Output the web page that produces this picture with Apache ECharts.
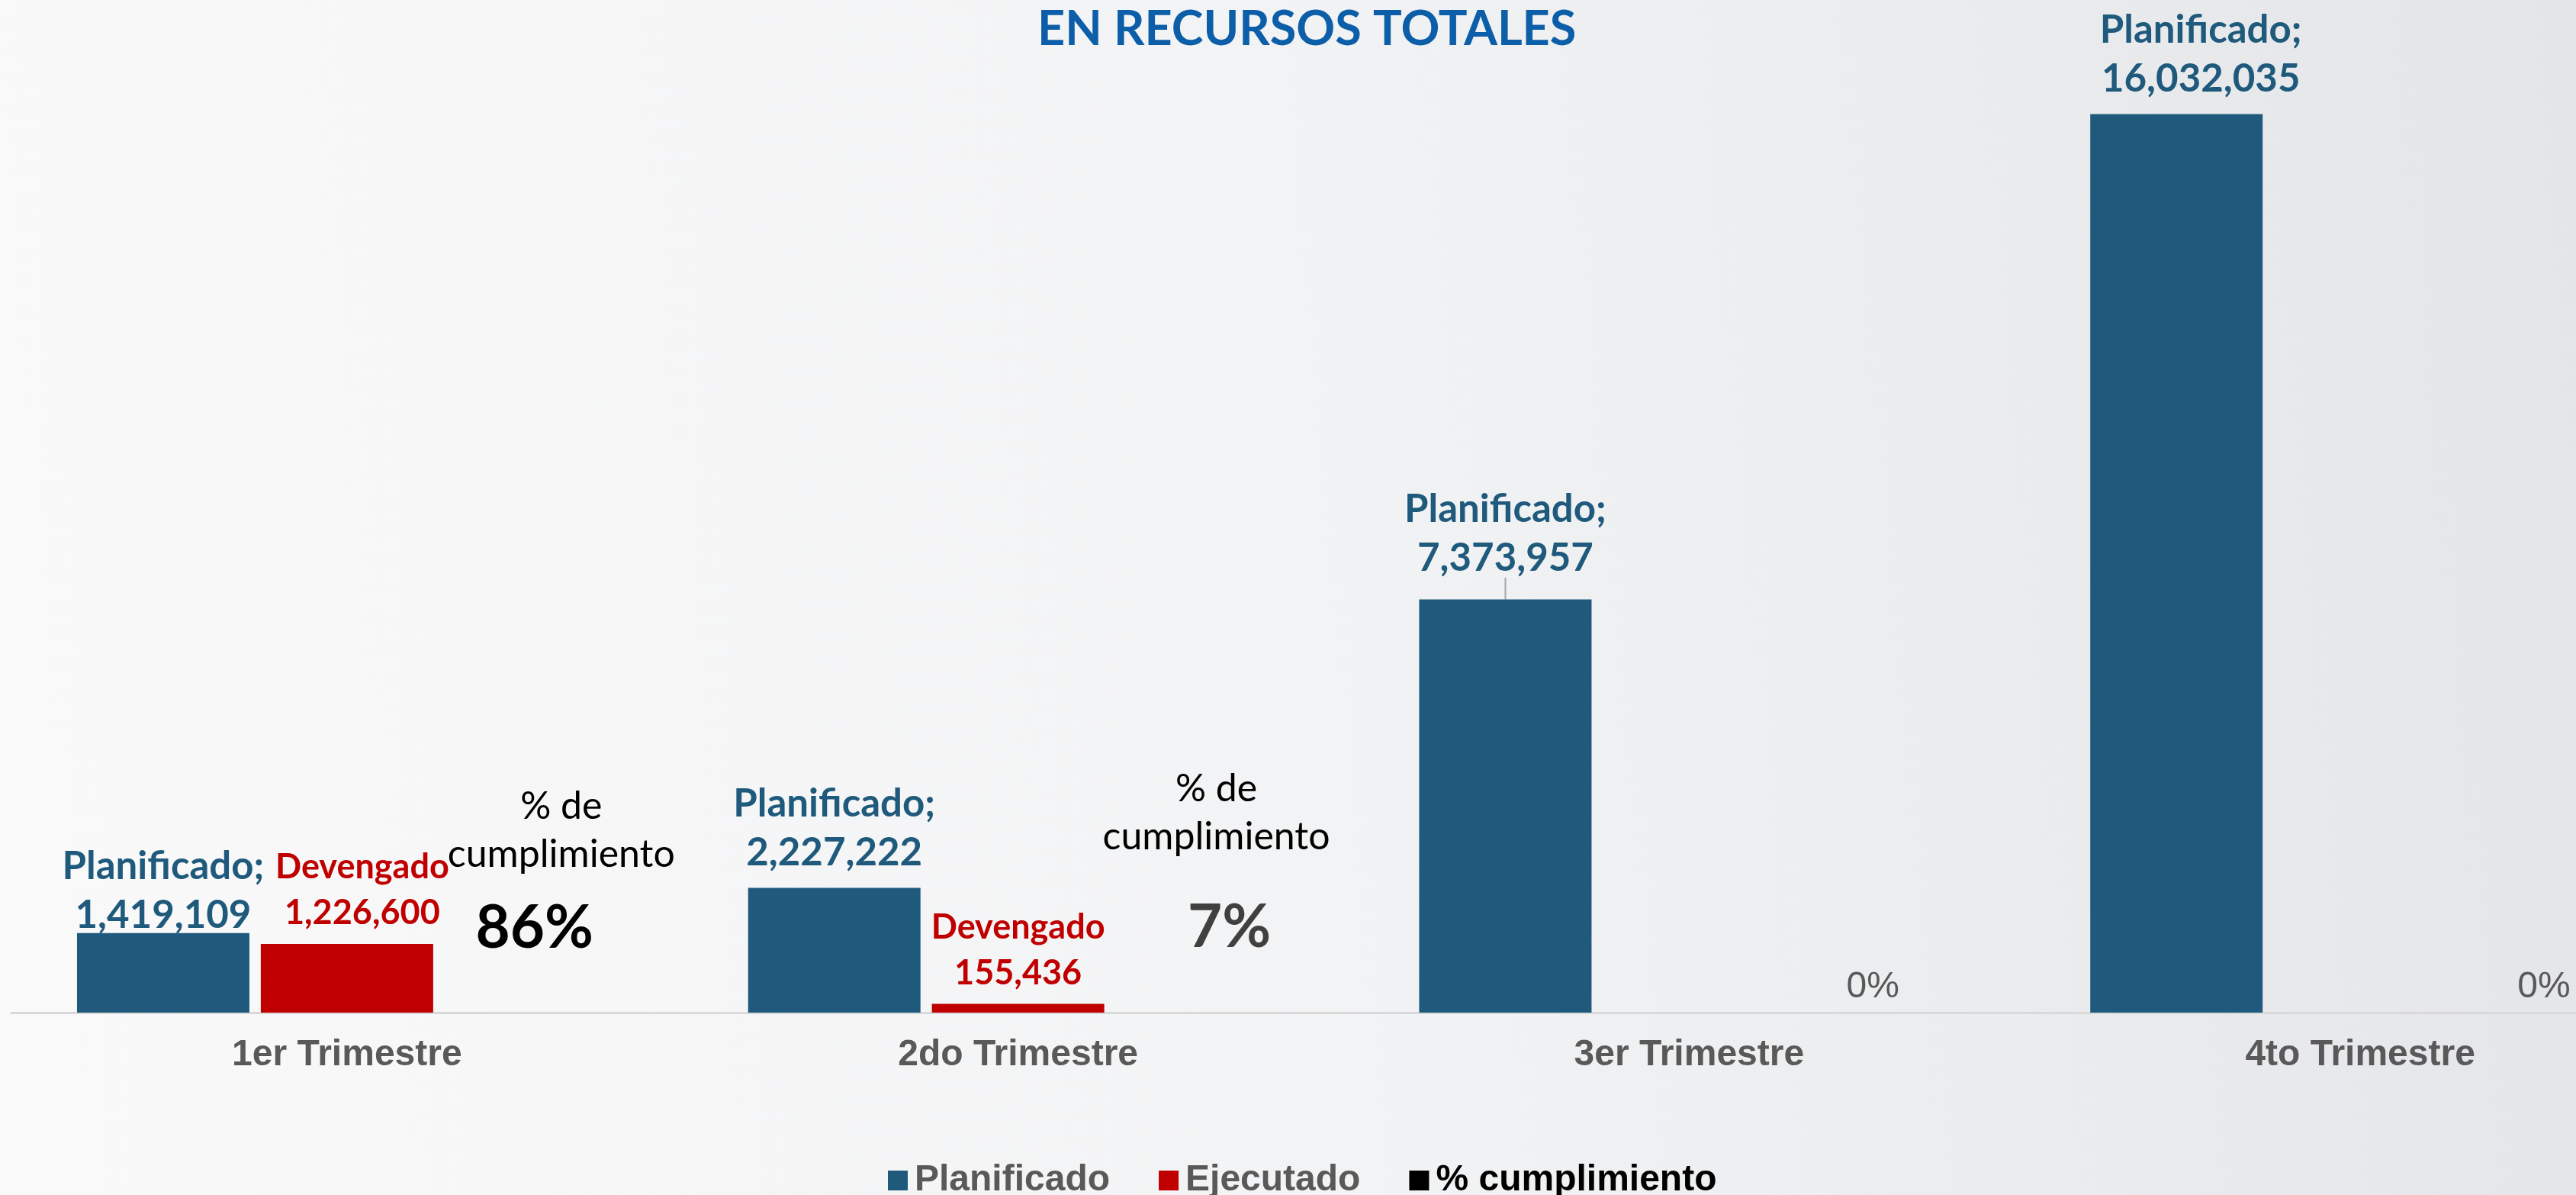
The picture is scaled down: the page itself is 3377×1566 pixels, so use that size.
<!DOCTYPE html>
<html><head><meta charset="utf-8">
<script src="https://cdn.jsdelivr.net/npm/echarts@6/dist/echarts.min.js"></script>
<style>html,body{margin:0;padding:0;overflow:hidden;} #c{width:3377px;height:1566px;}</style>
</head><body><div id="c"></div>
<script>
// ---- data ----
const categories = ['1er Trimestre', '2do Trimestre', '3er Trimestre', '4to Trimestre'];
const planificado = [1419109, 2227222, 7373957, 16032035];
const ejecutado = [1226600, 155436, 0, 0];
const cumplimiento = [0.86, 0.07, 0, 0];
const seriesNames = ['Planificado', 'Ejecutado', '% cumplimiento'];
const titleText = 'EN RECURSOS TOTALES';
const planPrefix = 'Planificado;';
const ejecPrefix = 'Devengado';
const pctCaption = ['% de', 'cumplimiento'];

// ---- styles ----
const BLUE = '#1F5A7D', RED = '#C00000', GRAY = '#595959';
const fmt = v => v.toLocaleString('en-US');
const pctText = v => Math.round(v * 100) + '%';

// label nudges (dx, dy) per series / category
const nudges = [
  [[0, 23], [0, 0], [0, -8], [32, 0]],
  [[20, 0], [0, 0], [0, 0], [0, 0]],
  [[40, 0], [19, 0], [0, 4], [0, 4]]
];

const planData = planificado.map((v, i) => {
  const item = { value: v };
  if (i === 2) item.labelLine = { show: true, lineStyle: { color: '#A6A6A6', width: 2 } };
  return item;
});
const ejecData = ejecutado.map(v => ({ value: v, label: { show: v > 0 } }));

const pctStyles = [
  { distance: 44, bLH: 132, bColor: '#000000', bPad: [0, 70, 0, 0] },
  { distance: 23, bLH: 176, bColor: '#404040', bPad: [0, 0, 0, 34] },
  { distance: 13 },
  { distance: 13 }
];
const pctData = cumplimiento.map((v, i) => {
  const s = pctStyles[i];
  if (v > 0) {
    return {
      value: v,
      label: {
        distance: s.distance,
        formatter: pctCaption.map(t => '{a|' + t + '}').join('\n') + '\n{b|' + pctText(v) + '}',
        rich: {
          a: { fontFamily: 'Lato', fontSize: 50, color: '#000', lineHeight: 63 },
          b: { fontFamily: 'Lato', fontWeight: 'bold', fontSize: 78, color: s.bColor, lineHeight: s.bLH, padding: s.bPad }
        }
      }
    };
  }
  return {
    value: v,
    label: {
      distance: s.distance,
      formatter: '{c|' + pctText(v) + '}',
      rich: { c: { fontFamily: 'Liberation Sans', fontSize: 48, color: GRAY, lineHeight: 48 } }
    }
  };
});

const chart = echarts.init(document.getElementById('c'), null, { renderer: 'canvas' });
chart.setOption({
  animation: false,
  backgroundColor: new echarts.graphic.LinearGradient(0, 0.3, 1, 0.1, [
    { offset: 0, color: '#F9F9FA' },
    { offset: 0.5, color: '#F2F3F4' },
    { offset: 1, color: '#E3E5E8' }
  ]),
  title: {
    text: titleText, left: 1355, top: 2,
    textStyle: { fontFamily: 'Lato', fontWeight: 'bold', fontSize: 63, color: '#0C5EA8' }
  },
  legend: {
    top: 1518, left: 1159, itemWidth: 26, itemHeight: 26, itemGap: 64, icon: 'rect',
    textStyle: { fontFamily: 'Liberation Sans', fontWeight: 'bold', fontSize: 48, color: GRAY, padding: [0, 0, 0, 4] },
    data: [
      { name: seriesNames[0] },
      { name: seriesNames[1] },
      { name: seriesNames[2], itemStyle: { color: '#000000' }, textStyle: { color: '#000000' } }
    ]
  },
  grid: { left: 15, top: 5, width: 3519, height: 1322, containLabel: false, outerBoundsMode: 'none' },
  xAxis: {
    type: 'category', data: categories,
    axisLine: { lineStyle: { color: '#D9D9D9', width: 3 } },
    axisTick: { show: false },
    axisLabel: { color: GRAY, fontFamily: 'Liberation Sans', fontWeight: 'bold', fontSize: 48, margin: 32 }
  },
  yAxis: [
    { type: 'value', min: 0, max: 18000000, show: false, splitLine: { show: false } },
    { type: 'value', min: 0, max: 1, show: false, splitLine: { show: false } }
  ],
  labelLayout: function (p) {
    const n = nudges[p.seriesIndex] && nudges[p.seriesIndex][p.dataIndex];
    if (n) return { dx: n[0], dy: n[1] };
  },
  series: [
    {
      name: seriesNames[0], type: 'bar', barWidth: 226, barGap: '6.6%',
      itemStyle: { color: BLUE }, data: planData,
      label: {
        show: true, position: 'top', distance: 14,
        formatter: p => '{n|' + planPrefix + '}\n{v|' + fmt(p.value) + '}',
        rich: {
          n: { fontFamily: 'Lato', fontWeight: 'bold', fontSize: 51, color: BLUE, lineHeight: 64 },
          v: { fontFamily: 'Lato', fontWeight: 'bold', fontSize: 51, color: BLUE, lineHeight: 64 }
        }
      }
    },
    {
      name: seriesNames[1], type: 'bar', barWidth: 226, barGap: '6.6%',
      itemStyle: { color: RED }, data: ejecData,
      label: {
        show: true, position: 'top', distance: 10,
        formatter: p => '{n|' + ejecPrefix + '}\n{v|' + fmt(p.value) + '}',
        rich: {
          n: { fontFamily: 'Lato', fontWeight: 'bold', fontSize: 45, color: RED, lineHeight: 60 },
          v: { fontFamily: 'Lato', fontWeight: 'bold', fontSize: 45, color: RED, lineHeight: 60 }
        }
      }
    },
    {
      name: seriesNames[2], type: 'bar', barWidth: 226, barGap: '6.6%', yAxisIndex: 1,
      itemStyle: { color: 'rgba(0,0,0,0)' }, data: pctData,
      label: { show: true, position: 'insideBottom' }
    }
  ]
});
</script></body></html>
